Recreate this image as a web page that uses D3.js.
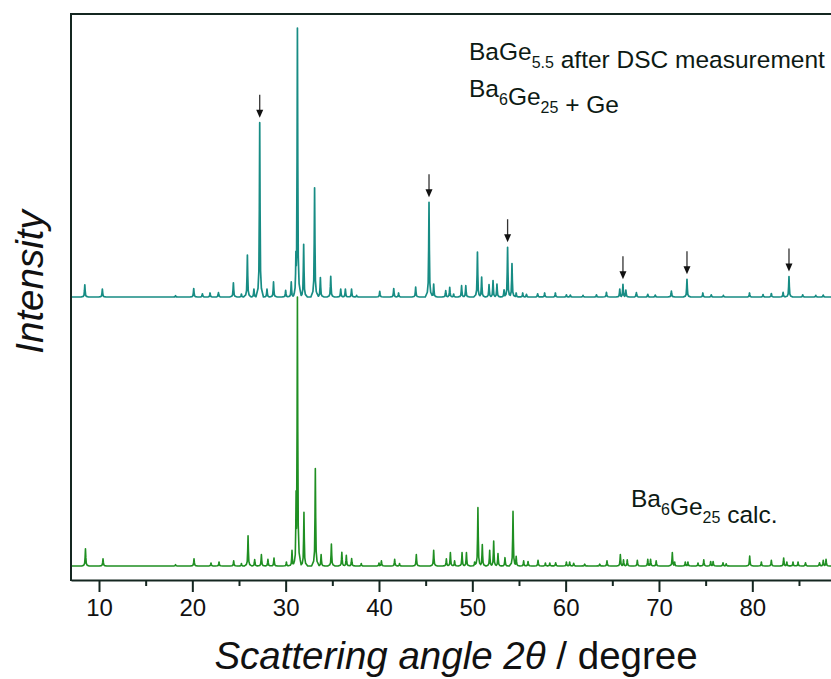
<!DOCTYPE html>
<html>
<head>
<meta charset="utf-8">
<script src="https://cdn.jsdelivr.net/npm/d3@7/dist/d3.min.js"></script>
<style>
  html, body { margin: 0; padding: 0; background: #fff; }
  svg { display: block; font-family: "Liberation Sans", Arial, sans-serif; }
</style>
</head>
<body>
<svg id="chart" width="831" height="679"></svg>
<script>
// Powder diffraction: BaGe5.5 after DSC (measured) and Ba6Ge25 (calculated)
// Reflection positions (2θ, degree) and relative intensities (% of strongest line)

const measuredAngles = [
  8.48, 10.36, 18.2, 20.15, 21.08, 21.9, 22.8, 24.4, 25.26, 25.9, 26.6, 27.22, 28.0, 28.7,
  30.0, 30.6, 31.1, 31.26, 31.93, 33.1, 33.72, 34.83, 35.9, 36.4, 37.06, 37.6, 40.08, 41.58,
  42.1, 43.93, 45.36, 45.86, 47.15, 47.58, 48.0, 48.85, 49.3, 50.55, 51.0, 51.79, 52.22,
  52.64, 53.4, 53.78, 54.25, 54.7, 55.4, 55.8, 57.0, 57.75, 58.9, 60.08, 60.5, 61.86, 63.3,
  64.37, 65.8, 66.14, 66.45, 67.58, 68.8, 69.6, 71.33, 73.0, 74.7, 75.6, 76.9, 79.7, 81.15,
  82.04, 83.3, 83.93, 85.4, 86.8, 87.6
];
const measuredIntensity = [
  4.5, 2.9, 0.5, 3.1, 1.2, 1.5, 1.6, 5.3, 1.1, 15.6, 2.9, 64.8, 2.9, 5.6,
  2.5, 5.6, 17, 100, 19.6, 40.6, 7.2, 7.7, 2.9, 2.9, 2.9, 0.6, 2.1, 3.1,
  1.5, 3.7, 35.2, 4.8, 2.4, 3.6, 1.1, 4.2, 4.2, 16.7, 7.4, 4.6, 6.1,
  4.8, 2.7, 18.5, 12.4, 1.5, 1.5, 1.0, 1.2, 1.5, 1.5, 0.8, 0.7, 0.6, 0.8,
  1.7, 2.9, 4.7, 2.6, 1.6, 1.0, 0.7, 2.2, 6.6, 1.5, 0.8, 0.6, 1.5, 0.9,
  1.3, 1.7, 7.6, 0.8, 0.6, 0.7
];

const calcAngles = [
  8.55, 10.43, 18.2, 20.18, 22.0, 22.86, 24.43, 25.26, 25.97, 26.68, 27.4, 28.1, 28.75,
  30.08, 30.68, 31.12, 31.26, 31.96, 33.18, 33.8, 34.9, 36.02, 36.5, 37.07, 38.1, 40.0,
  40.26, 41.68, 42.2, 44.0, 45.86, 47.22, 47.65, 48.1, 48.9, 49.37, 50.25, 50.6, 51.07,
  51.86, 52.29, 52.75, 53.5, 54.36, 54.7, 55.5, 55.97, 57.04, 57.83, 58.3, 58.93, 60.08,
  60.43, 60.86, 62.04, 63.65, 64.43, 65.86, 66.2, 66.6, 67.68, 68.8, 69.1, 69.7, 71.43,
  71.68, 72.82, 73.1, 74.18, 74.8, 75.54, 75.8, 76.86, 77.2, 79.72, 80.97, 82.04, 83.36,
  83.7, 84.36, 84.9, 85.7, 87.2, 87.6, 87.9
];
const calcIntensity = [
  6.4, 2.7, 0.5, 2.7, 1.1, 1.5, 1.9, 0.9, 11.2, 2.4, 4.3, 2.5, 3.0,
  1.5, 5.8, 28, 100, 20, 36.2, 4.3, 8.2, 5.1, 4.0, 2.8, 0.9, 1.1,
  1.9, 2.5, 0.9, 4.3, 5.8, 2.7, 5.0, 1.9, 5.0, 5.0, 1.5, 21.7, 8.0,
  5.8, 9.3, 4.6, 3.1, 20.3, 3.6, 1.9, 1.7, 2.1, 1.1, 1.1, 1.2, 1.5,
  1.5, 1.0, 0.7, 0.7, 1.9, 4.3, 2.3, 2.3, 2.1, 2.5, 2.5, 1.9, 5.0,
  1.5, 1.5, 1.5, 1.1, 2.3, 1.7, 1.7, 1.2, 0.8, 3.7, 1.5, 2.1, 3.0,
  1.5, 1.5, 1.5, 1.2, 1.2, 2.1, 2.5
];

// Germanium reflections marked with arrows in the measured pattern
const geMarkerAngles = [27.22, 45.36, 53.78, 66.14, 73.0, 83.93];

const xTickValues = [10, 20, 30, 40, 50, 60, 70, 80];
const xMinorTicks = [15, 25, 35, 45, 55, 65, 75, 85];

// ---- layout ----
const svg = d3.select("#chart");
const plotLeft = 71, plotTop = 14, plotBottom = 580;
const pxPerDeg = 9.333;
const xDomain = [7, 90];
const x = d3.scaleLinear().domain(xDomain).range([plotLeft, plotLeft + (xDomain[1] - xDomain[0]) * pxPerDeg]);
const y = d3.scaleLinear().domain([-5.2, 205.2]).range([plotBottom, plotTop]);
const measuredOffset = 100;

// narrow line profile (offset in degrees, fraction of peak height)
const profile = [[-0.4, 0], [-0.18, 0.05], [-0.09, 0.15], [-0.04, 0.5], [0, 1],
                 [0.04, 0.5], [0.09, 0.15], [0.18, 0.05], [0.4, 0]];

function profileAt(dx) {
  if (dx <= profile[0][0] || dx >= profile[profile.length - 1][0]) return 0;
  for (let i = 1; i < profile.length; i++) {
    if (dx <= profile[i][0]) {
      const [x0, f0] = profile[i - 1], [x1, f1] = profile[i];
      return f0 + (f1 - f0) * (dx - x0) / (x1 - x0);
    }
  }
  return 0;
}

function patternPoints(angles, intens) {
  const xs = new Set([xDomain[0], xDomain[1]]);
  angles.forEach(a => profile.forEach(p => xs.add(+(a + p[0]).toFixed(4))));
  const sorted = Array.from(xs).filter(v => v >= xDomain[0] && v <= xDomain[1]).sort((a, b) => a - b);
  return sorted.map(t => {
    let v = 0;
    angles.forEach((a, i) => { v = Math.max(v, intens[i] * profileAt(t - a)); });
    return [t, v];
  });
}

svg.append("defs").append("clipPath").attr("id", "plotClip")
  .append("rect").attr("x", plotLeft).attr("y", plotTop).attr("width", 831 - plotLeft).attr("height", plotBottom - plotTop);

const line = d3.line().x(d => x(d[0])).y(d => y(d[1]));

const plot = svg.append("g").attr("clip-path", "url(#plotClip)");

plot.append("path")
  .datum(patternPoints(calcAngles, calcIntensity))
  .attr("fill", "none").attr("stroke", "#1f8f22").attr("stroke-width", 1.6)
  .attr("stroke-linejoin", "round")
  .attr("d", line);

plot.append("path")
  .datum(patternPoints(measuredAngles, measuredIntensity).map(d => [d[0], d[1] + measuredOffset]))
  .attr("fill", "none").attr("stroke", "#178c84").attr("stroke-width", 1.7)
  .attr("stroke-linejoin", "round")
  .attr("d", line);

// arrows above the Ge reflections
const arrowG = svg.append("g");
geMarkerAngles.forEach(a => {
  const i = measuredAngles.indexOf(a);
  const tipY = y(measuredIntensity[i] + measuredOffset) - 5;
  const ax = x(a);
  arrowG.append("line").attr("x1", ax).attr("x2", ax).attr("y1", tipY - 23).attr("y2", tipY - 7)
    .attr("stroke", "#333").attr("stroke-width", 1.3);
  arrowG.append("path")
    .attr("d", `M${ax - 3.5},${tipY - 8}L${ax + 3.5},${tipY - 8}L${ax},${tipY}Z`)
    .attr("fill", "#111");
});

// frame: left and top lines
const frameColor = "#142620";
svg.append("line").attr("x1", plotLeft).attr("x2", plotLeft).attr("y1", plotTop - 1).attr("y2", plotBottom + 1)
  .attr("stroke", frameColor).attr("stroke-width", 2);
svg.append("line").attr("x1", plotLeft).attr("x2", 831).attr("y1", plotTop).attr("y2", plotTop)
  .attr("stroke", frameColor).attr("stroke-width", 2);

// bottom axis with minor ticks
const axisMinor = svg.append("g").attr("transform", `translate(0,${plotBottom})`)
  .call(d3.axisBottom(x).tickValues(xMinorTicks).tickSize(6).tickFormat(""));
const axisMajor = svg.append("g").attr("transform", `translate(0,${plotBottom})`)
  .call(d3.axisBottom(x).tickValues(xTickValues).tickSize(12).tickSizeOuter(0).tickPadding(7));
[axisMinor, axisMajor].forEach(g => {
  g.selectAll("path.domain").attr("stroke", frameColor).attr("stroke-width", 2);
  g.selectAll(".tick line").attr("stroke", frameColor).attr("stroke-width", 2);
});
axisMinor.select("path.domain").remove();
axisMajor.selectAll(".tick text")
  .attr("font-size", 24).attr("fill", "#111")
  .attr("font-family", "'Liberation Sans', Arial, sans-serif");

// axis titles
const xt = svg.append("text").attr("x", 456).attr("y", 669).attr("text-anchor", "middle")
  .attr("font-size", 38.5).attr("fill", "#111");
xt.append("tspan").attr("font-style", "italic").text("Scattering angle 2θ");
xt.append("tspan").text(" / degree");

svg.append("text").attr("transform", "translate(43,282) rotate(-90)")
  .attr("text-anchor", "middle").attr("font-size", 38.5).attr("font-style", "italic")
  .attr("fill", "#111").text("Intensity");

// pattern labels with subscripts
function formula(g, xPos, yPos, parts) {
  const t = g.append("text").attr("x", xPos).attr("y", yPos).attr("font-size", 24.5).attr("fill", "#0d1a14");
  parts.forEach(([s, sub]) => {
    if (sub) {
      t.append("tspan").attr("font-size", 16).attr("dy", 8).text(s);
      t.append("tspan").attr("dy", -8).text("");
    } else {
      t.append("tspan").text(s);
    }
  });
  return t;
}
formula(svg, 469, 60, [["BaGe"], ["5.5", true], [" after DSC measurement"]]);
formula(svg, 469, 97, [["Ba"], ["6", true], ["Ge"], ["25", true], [" + Ge"]]);
formula(svg, 631, 507, [["Ba"], ["6", true], ["Ge"], ["25", true], [" calc."]]);
</script>
</body>
</html>
